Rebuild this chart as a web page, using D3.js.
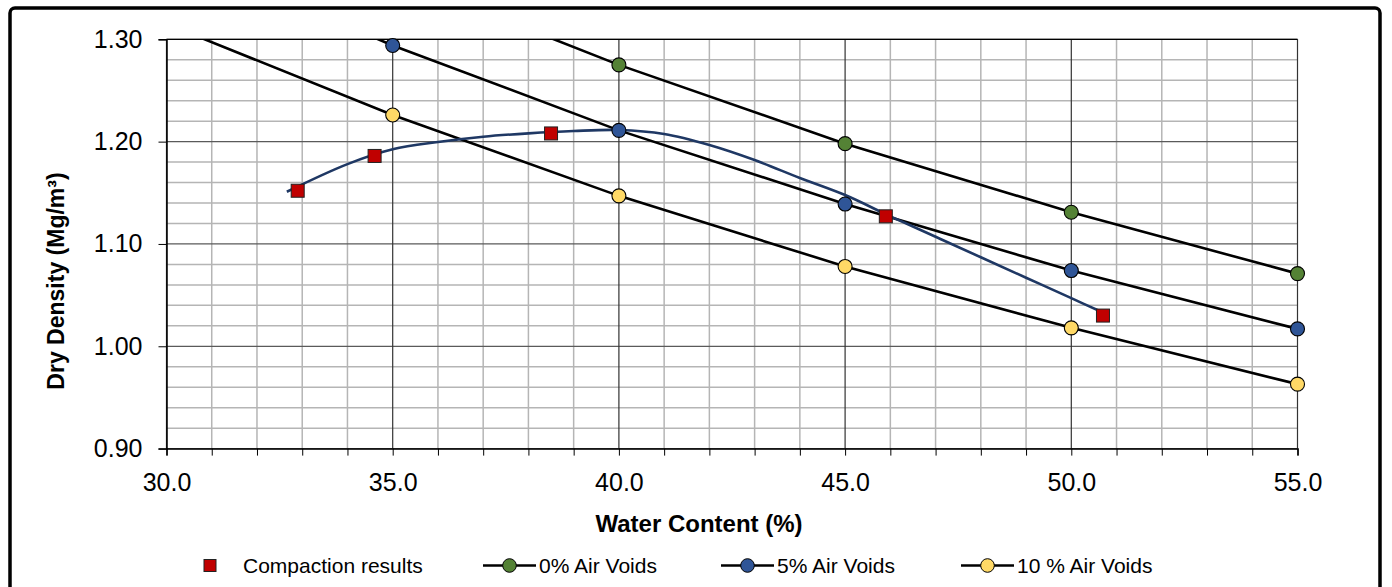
<!DOCTYPE html>
<html>
<head>
<meta charset="utf-8">
<script src="https://cdn.jsdelivr.net/npm/d3@7"></script>
<style>
  html, body { margin: 0; padding: 0; background: #fff; }
  svg { display: block; font-family: Arial, "Liberation Sans", sans-serif; }
</style>
</head>
<body>
<svg id="chart" width="1392" height="587"></svg>
<script>
// ---------- data ----------
const waterContent = [30, 35, 40, 45, 50, 55];
const zeroAirVoids = [1.461, 1.362, 1.275, 1.198, 1.131, 1.071];
const fiveAirVoids = [1.388, 1.294, 1.211, 1.139, 1.074, 1.017];
const tenAirVoids  = [1.315, 1.226, 1.147, 1.078, 1.018, 0.963];

const compactionW = [32.9, 34.6, 38.5, 45.9, 50.7];
const compactionD = [1.152, 1.186, 1.208, 1.127, 1.030];

const curveW = [32.66, 34.0, 35.0, 36.0, 37.0, 38.0, 39.0, 40.0, 41.0, 42.0, 43.0, 44.0, 45.0, 46.0, 47.0, 48.0, 49.0, 50.0, 50.7];
const curveD = [1.151, 1.178, 1.1925, 1.1996, 1.2048, 1.2081, 1.2104, 1.2114, 1.2075, 1.1967, 1.182, 1.1645, 1.1478, 1.127, 1.107, 1.087, 1.067, 1.047, 1.033];

const xTicks = [30, 35, 40, 45, 50, 55];
const yTicks = [0.90, 1.00, 1.10, 1.20, 1.30];

const seriesNames = ["Compaction results", "0% Air Voids", "5% Air Voids", "10 % Air Voids"];
const seriesColors = ["#c00000", "#548235", "#2f5597", "#ffd966"];

// ---------- layout ----------
const svg = d3.select("#chart");
const L = 166.5, R = 1297.5, T = 39.3, B = 448.6;

const x = d3.scaleLinear().domain([30, 55]).range([L, R]);
const y = d3.scaleLinear().domain([0.90, 1.30]).range([B, T]);

// outer border
svg.append("rect")
  .attr("x", 10).attr("y", 8).attr("width", 1370).attr("height", 600)
  .attr("rx", 5).attr("fill", "#fff").attr("stroke", "#000").attr("stroke-width", 3.5);

svg.append("clipPath").attr("id", "plotclip")
  .append("rect").attr("x", L).attr("y", T).attr("width", R - L).attr("height", B - T);

const grid = svg.append("g");
const xMinor = d3.range(31, 55, 1).filter(v => v % 5 !== 0);
grid.selectAll(".vminor").data(xMinor).join("line")
  .attr("x1", d => x(d)).attr("x2", d => x(d)).attr("y1", T).attr("y2", B)
  .attr("stroke", "#b5b5b5").attr("stroke-width", 1.5);
const yMinor = d3.range(0.92, 1.30, 0.02).filter(v => Math.abs(v * 10 - Math.round(v * 10)) > 1e-6);
grid.selectAll(".hminor").data(yMinor).join("line")
  .attr("x1", L).attr("x2", R).attr("y1", d => y(d)).attr("y2", d => y(d))
  .attr("stroke", "#b5b5b5").attr("stroke-width", 1.5);
grid.selectAll(".hmajor").data(yTicks).join("line")
  .attr("x1", L).attr("x2", R).attr("y1", d => y(d)).attr("y2", d => y(d))
  .attr("stroke", "#5a5a5a").attr("stroke-width", 1.2);
grid.selectAll(".vmajor").data(xTicks).join("line")
  .attr("x1", d => x(d)).attr("x2", d => x(d)).attr("y1", T).attr("y2", B)
  .attr("stroke", "#333").attr("stroke-width", 1.2);

// axes
const xAxis = d3.axisBottom(x).tickValues(d3.range(30, 56, 1)).tickSize(7)
  .tickFormat(d => d % 5 === 0 ? d3.format(".1f")(d) : "");
const gx = svg.append("g").attr("transform", `translate(0,${B})`).call(xAxis);
gx.select(".domain").attr("stroke", "#000").attr("stroke-width", 1.5);
gx.selectAll(".tick line").attr("stroke", "#000").attr("stroke-width", 1);
gx.selectAll(".tick text").attr("font-size", 25).attr("fill", "#000")
  .attr("font-family", "Arial, 'Liberation Sans', sans-serif").attr("dy", "1.3em");

const yAxis = d3.axisLeft(y).tickValues(yTicks).tickSize(8).tickFormat(d3.format(".2f"));
const gy = svg.append("g").attr("transform", `translate(${L},0)`).call(yAxis);
gy.select(".domain").attr("stroke", "#000").attr("stroke-width", 1.5);
gy.selectAll(".tick line").attr("stroke", "#000").attr("stroke-width", 1);
gy.selectAll(".tick text").attr("font-size", 25).attr("fill", "#000")
  .attr("font-family", "Arial, 'Liberation Sans', sans-serif").attr("x", -24);

svg.append("line").attr("x1", L).attr("x2", R).attr("y1", T).attr("y2", T)
  .attr("stroke", "#000").attr("stroke-width", 1.2);

// ---------- series ----------
const plot = svg.append("g").attr("clip-path", "url(#plotclip)");
const markers = svg.append("g");
const lineGen = d3.line().x(d => x(d[0])).y(d => y(d[1]));
const inside = d => d[0] >= 30 && d[0] <= 55 && d[1] >= 0.90 && d[1] <= 1.30;

const avSeries = [
  { vals: zeroAirVoids, color: seriesColors[1] },
  { vals: fiveAirVoids, color: seriesColors[2] },
  { vals: tenAirVoids,  color: seriesColors[3] }
];
avSeries.forEach(s => {
  const pts = waterContent.map((w, i) => [w, s.vals[i]]);
  plot.append("path").datum(pts).attr("d", lineGen)
    .attr("fill", "none").attr("stroke", "#000").attr("stroke-width", 2.6);
});

// smooth compaction curve
const curvePts = curveW.map((w, i) => [w, curveD[i]]);
plot.append("path").datum(curvePts)
  .attr("d", d3.line().x(d => x(d[0])).y(d => y(d[1])).curve(d3.curveCatmullRom.alpha(0.5)))
  .attr("fill", "none").attr("stroke", "#1f3864").attr("stroke-width", 2.6);

avSeries.forEach(s => {
  const pts = waterContent.map((w, i) => [w, s.vals[i]]).filter(inside);
  markers.selectAll(null).data(pts).join("circle")
    .attr("cx", d => x(d[0])).attr("cy", d => y(d[1])).attr("r", 7)
    .attr("fill", s.color).attr("stroke", "#000").attr("stroke-width", 1.1);
});

// compaction squares
const sq = 13;
markers.selectAll(".sq").data(compactionW.map((w, i) => [w, compactionD[i]])).join("rect")
  .attr("x", d => x(d[0]) - sq / 2).attr("y", d => y(d[1]) - sq / 2)
  .attr("width", sq).attr("height", sq)
  .attr("fill", seriesColors[0]).attr("stroke", "#222").attr("stroke-width", 1);

// ---------- titles ----------
svg.append("text").attr("x", 699).attr("y", 532).attr("text-anchor", "middle")
  .attr("font-size", 24).attr("font-weight", "bold").text("Water Content (%)");

svg.append("text").attr("transform", "translate(64,281) rotate(-90)").attr("text-anchor", "middle")
  .attr("font-size", 23).attr("font-weight", "bold").text("Dry Density (Mg/m³)");

// ---------- legend ----------
const ly = 565.5;
const lg = svg.append("g");
lg.append("rect").attr("x", 210 - 6).attr("y", ly - 6).attr("width", 12).attr("height", 12)
  .attr("fill", seriesColors[0]).attr("stroke", "#222").attr("stroke-width", 1);
lg.append("text").attr("x", 243).attr("y", ly + 7).attr("font-size", 21).text(seriesNames[0]);

const legendItems = [
  { x0: 483, name: seriesNames[1], color: seriesColors[1] },
  { x0: 721, name: seriesNames[2], color: seriesColors[2] },
  { x0: 961, name: seriesNames[3], color: seriesColors[3] }
];
legendItems.forEach(it => {
  lg.append("line").attr("x1", it.x0).attr("x2", it.x0 + 53).attr("y1", ly).attr("y2", ly)
    .attr("stroke", "#000").attr("stroke-width", 2.6);
  lg.append("circle").attr("cx", it.x0 + 26.5).attr("cy", ly).attr("r", 6.8)
    .attr("fill", it.color).attr("stroke", "#000").attr("stroke-width", 1);
  lg.append("text").attr("x", it.x0 + 56).attr("y", ly + 7).attr("font-size", 21).text(it.name);
});
</script>
</body>
</html>
